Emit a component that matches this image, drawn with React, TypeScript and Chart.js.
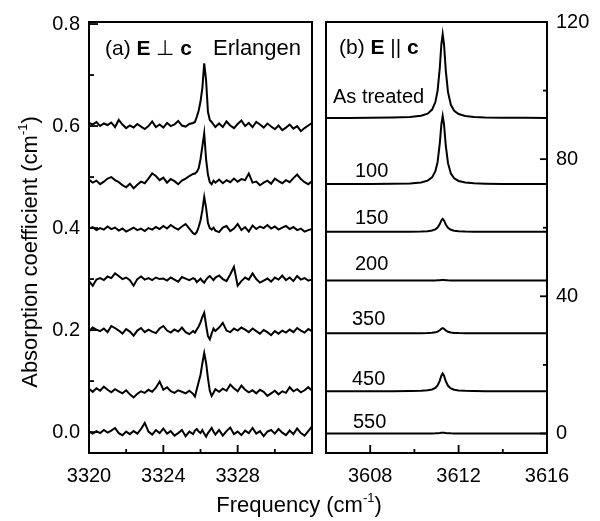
import React, { useEffect, useRef } from 'react';
import { Chart, registerables } from 'chart.js';

Chart.register(...registerables);

const FONT = '"Liberation Sans", Arial, Helvetica, sans-serif';

// ---------- Panel (a): E ⊥ c, Erlangen ----------
const LEFT_X = [
  3320, 3320.2, 3320.4, 3320.6, 3320.8, 3321, 3321.2, 3321.4, 3321.6, 3321.8,
  3322, 3322.2, 3322.4, 3322.6, 3322.8, 3323, 3323.2, 3323.4, 3323.6, 3323.8,
  3324, 3324.2, 3324.4, 3324.6, 3324.8, 3325, 3325.2, 3325.4, 3325.6,
  3325.7, 3325.8, 3325.9, 3326, 3326.1, 3326.2, 3326.3, 3326.4, 3326.5, 3326.6, 3326.7, 3326.8,
  3327, 3327.2, 3327.4, 3327.6, 3327.8, 3328, 3328.2, 3328.4, 3328.6, 3328.8,
  3329, 3329.2, 3329.4, 3329.6, 3329.8, 3330, 3330.2, 3330.4, 3330.6, 3330.8,
  3331, 3331.2, 3331.4, 3331.6, 3331.8, 3332,
];

const LEFT_S1 = [
  0.606, 0.603, 0.608, 0.600, 0.605, 0.602, 0.607, 0.598, 0.612, 0.603,
  0.596, 0.601, 0.597, 0.604, 0.599, 0.594, 0.600, 0.609, 0.598, 0.603,
  0.597, 0.606, 0.600, 0.603, 0.610, 0.601, 0.599, 0.604, 0.606,
  0.608, 0.618, 0.630, 0.648, 0.675, 0.723, 0.690, 0.628, 0.612, 0.608, 0.603, 0.598,
  0.605, 0.598, 0.609, 0.601, 0.596, 0.604, 0.611, 0.600, 0.606, 0.598,
  0.608, 0.603, 0.597, 0.605, 0.599, 0.594, 0.601, 0.592, 0.597, 0.603,
  0.595, 0.600, 0.590, 0.596, 0.601, 0.606,
];
const LEFT_S2 = [
  0.495, 0.489, 0.493, 0.486, 0.491, 0.497, 0.500, 0.494, 0.490, 0.484,
  0.480, 0.487, 0.478, 0.485, 0.491, 0.488, 0.497, 0.507, 0.502, 0.494,
  0.499, 0.489, 0.496, 0.492, 0.486, 0.493, 0.497, 0.502, 0.506,
  0.507, 0.510, 0.517, 0.535, 0.560, 0.586, 0.535, 0.505, 0.490, 0.486, 0.493, 0.489,
  0.495, 0.488, 0.494, 0.490, 0.497, 0.491, 0.496, 0.494, 0.507, 0.489,
  0.491, 0.484, 0.489, 0.493, 0.487, 0.497, 0.492, 0.488, 0.494, 0.490,
  0.498, 0.505, 0.496, 0.490, 0.486, 0.492,
];
const LEFT_S3 = [
  0.399, 0.402, 0.396, 0.400, 0.397, 0.403, 0.398, 0.401, 0.395, 0.399,
  0.393, 0.397, 0.401, 0.396, 0.399, 0.394, 0.400, 0.397, 0.402, 0.398,
  0.404, 0.399, 0.406, 0.401, 0.397, 0.403, 0.408, 0.399, 0.390,
  0.388, 0.392, 0.402, 0.415, 0.435, 0.461, 0.440, 0.410, 0.400, 0.397, 0.401, 0.395,
  0.392, 0.401, 0.404, 0.394, 0.399, 0.408, 0.396, 0.402, 0.393, 0.405,
  0.398, 0.403, 0.400, 0.406, 0.399, 0.403, 0.397, 0.401, 0.404, 0.398,
  0.402, 0.396, 0.399, 0.393, 0.396, 0.398,
];
const LEFT_S4 = [
  0.296, 0.287, 0.299, 0.302, 0.298, 0.305, 0.302, 0.311, 0.306, 0.300,
  0.303, 0.298, 0.287, 0.300, 0.305, 0.299, 0.302, 0.298, 0.303, 0.300,
  0.301, 0.297, 0.303, 0.299, 0.295, 0.304, 0.301, 0.298, 0.302,
  0.300, 0.294, 0.297, 0.301, 0.296, 0.293, 0.299, 0.303, 0.306, 0.302, 0.298, 0.303,
  0.307, 0.300, 0.296, 0.309, 0.324, 0.287, 0.296, 0.303, 0.299, 0.311,
  0.300, 0.293, 0.297, 0.301, 0.295, 0.303, 0.299, 0.307, 0.298, 0.303,
  0.296, 0.306, 0.299, 0.302, 0.297, 0.299,
];
const LEFT_S5 = [
  0.197, 0.205, 0.201, 0.198, 0.203, 0.196, 0.208, 0.204, 0.199, 0.193,
  0.202, 0.197, 0.189, 0.199, 0.204, 0.196, 0.201, 0.197, 0.194, 0.203,
  0.208, 0.199, 0.195, 0.201, 0.197, 0.205, 0.196, 0.192, 0.198,
  0.195, 0.201, 0.207, 0.215, 0.226, 0.234, 0.210, 0.188, 0.182, 0.193, 0.203, 0.198,
  0.205, 0.214, 0.199, 0.196, 0.203, 0.199, 0.205, 0.201, 0.196, 0.203,
  0.198, 0.193, 0.200, 0.196, 0.190, 0.198, 0.193, 0.199, 0.195, 0.201,
  0.196, 0.204, 0.199, 0.195, 0.202, 0.198,
];
const LEFT_S6 = [
  0.085, 0.079, 0.086, 0.081, 0.089, 0.083, 0.078, 0.084, 0.080, 0.076,
  0.082, 0.074, 0.068, 0.075, 0.080, 0.077, 0.083, 0.079, 0.087, 0.099,
  0.083, 0.088, 0.080, 0.077, 0.082, 0.079, 0.076, 0.081, 0.075,
  0.070, 0.084, 0.098, 0.112, 0.135, 0.155, 0.136, 0.106, 0.081, 0.071, 0.077, 0.084,
  0.079, 0.085, 0.081, 0.093, 0.086, 0.080, 0.091, 0.083, 0.078, 0.082,
  0.076, 0.083, 0.079, 0.071, 0.076, 0.081, 0.074, 0.080, 0.077, 0.088,
  0.080, 0.084, 0.078, 0.082, 0.088, 0.081,
];
const LEFT_S7 = [
  0.001, -0.003, 0.002, -0.002, 0.004, -0.001, 0.003, 0.008, -0.002, -0.006,
  0.001, -0.004, 0.002, -0.003, 0.006, 0.018, 0.001, -0.005, 0.004, -0.002,
  0.007, -0.003, 0.002, -0.007, -0.002, 0.004, -0.008, 0.001, -0.004,
  0.003, 0.006, 0.001, -0.002, 0.004, -0.003, -0.009, -0.002, 0.003, 0.008, 0.001, -0.005,
  0.004, -0.007, 0.002, 0.009, -0.004, 0.001, -0.006, 0.003, -0.002, 0.008,
  -0.003, 0.002, -0.008, 0.001, 0.004, -0.003, 0.006, -0.001, -0.006, 0.003,
  -0.004, 0.007, -0.002, -0.007, 0.002, 0.011,
];
const LEFT_SERIES = [LEFT_S1, LEFT_S2, LEFT_S3, LEFT_S4, LEFT_S5, LEFT_S6, LEFT_S7];

const LEFT_X_TICKS = [3320, 3322, 3324, 3326, 3328, 3330, 3332];
const LEFT_X_LABELS = ['3320', '', '3324', '', '3328', '', ''];
const LEFT_Y_TICKS = [0, 0.1, 0.2, 0.3, 0.4, 0.5, 0.6, 0.7, 0.8];
const LEFT_Y_LABELS = ['0.0', '', '0.2', '', '0.4', '', '0.6', '', '0.8'];

// ---------- Panel (b): E || c ----------
const RIGHT_X = [
  3606, 3607, 3608, 3609, 3609.8, 3610.3, 3610.6, 3610.8, 3610.95, 3611.05,
  3611.15, 3611.22, 3611.28, 3611.34, 3611.42, 3611.52, 3611.65, 3611.8, 3612.0, 3612.3,
  3612.7, 3613.2, 3614, 3615, 3616,
];
const RIGHT_AS_TREATED = [
  92.0, 92.03, 92.06, 92.12, 92.28, 92.64, 93.27, 94.45, 96.66, 99.99,
  106.7, 113.5, 116.5, 113.5, 105.9, 99.55, 95.85, 94.12, 93.15, 92.59,
  92.31, 92.17, 92.08, 92.04, 92.03,
];
const RIGHT_100 = [
  72.72, 72.73, 72.75, 72.8, 72.93, 73.22, 73.73, 74.69, 76.48, 79.19,
  84.64, 90.15, 92.6, 90.15, 83.96, 78.83, 75.82, 74.42, 73.64, 73.18,
  72.95, 72.84, 72.77, 72.74, 72.72,
];
const RIGHT_150 = [
  58.8, 58.8, 58.81, 58.82, 58.84, 58.9, 59.0, 59.18, 59.52, 60.04,
  61.08, 62.13, 62.6, 62.13, 60.95, 59.97, 59.4, 59.13, 58.98, 58.89,
  58.85, 58.82, 58.81, 58.8, 58.8,
];
const RIGHT_200 = [
  44.6, 44.6, 44.6, 44.6, 44.6, 44.6, 44.61, 44.62, 44.64, 44.67,
  44.71, 44.75, 44.77, 44.75, 44.7, 44.66, 44.63, 44.62, 44.61, 44.6,
  44.6, 44.6, 44.6, 44.6, 44.6,
];
const RIGHT_350 = [
  29.2, 29.2, 29.2, 29.21, 29.22, 29.24, 29.28, 29.35, 29.49, 29.69,
  30.1, 30.52, 30.7, 30.52, 30.05, 29.66, 29.44, 29.33, 29.27, 29.24,
  29.22, 29.21, 29.2, 29.2, 29.2,
];
const RIGHT_450 = [
  12.3, 12.31, 12.31, 12.33, 12.36, 12.44, 12.57, 12.82, 13.29, 14.0,
  15.42, 16.86, 17.5, 16.86, 15.24, 13.9, 13.12, 12.75, 12.54, 12.42,
  12.37, 12.34, 12.32, 12.31, 12.31,
];
const RIGHT_550 = [
  0, 0, 0, 0, 0, 0, 0.01, 0.02, 0.04, 0.07,
  0.12, 0.18, 0.2, 0.18, 0.11, 0.06, 0.03, 0.02, 0.01, 0,
  0, 0, 0, 0, 0,
];
const RIGHT_SERIES = [RIGHT_AS_TREATED, RIGHT_100, RIGHT_150, RIGHT_200, RIGHT_350, RIGHT_450, RIGHT_550];
const RIGHT_CURVE_LABELS = ['As treated', '100', '150', '200', '350', '450', '550'];

const RIGHT_X_TICKS = [3606, 3608, 3610, 3612, 3614, 3616];
const RIGHT_X_LABELS = ['', '3608', '', '3612', '', '3616'];
const RIGHT_Y_TICKS = [0, 20, 40, 60, 80, 100, 120];
const RIGHT_Y_LABELS = ['0', '', '40', '', '80', '', '120'];

type Run = { text: string; font: string; dy?: number };

function drawRuns(ctx: CanvasRenderingContext2D, x: number, y: number, runs: Run[], align: 'left' | 'center' = 'left') {
  ctx.textAlign = 'left';
  const widths = runs.map((r) => {
    ctx.font = r.font;
    return ctx.measureText(r.text).width;
  });
  const total = widths.reduce((a, b) => a + b, 0);
  let cx = align === 'center' ? x - total / 2 : x;
  runs.forEach((r, i) => {
    ctx.font = r.font;
    ctx.fillText(r.text, cx, y + (r.dy || 0));
    cx += widths[i];
  });
}

function makeX(min: number, max: number, ticks: number[], labels: string[]) {
  return {
    type: 'linear',
    position: 'bottom',
    min,
    max,
    grid: { display: false, drawTicks: false },
    border: { display: false },
    ticks: {
      autoSkip: false,
      maxRotation: 0,
      minRotation: 0,
      padding: 11,
      color: '#000',
      font: { family: FONT, size: 20 },
      callback: (_v: any, i: number) => labels[i] ?? '',
    },
    afterBuildTicks: (s: any) => {
      s.ticks = ticks.map((v) => ({ value: v }));
    },
    afterFit: (s: any) => {
      s.height = 40;
    },
  };
}

function makeY(min: number, max: number, ticks: number[], labels: string[], position: 'left' | 'right') {
  return {
    type: 'linear',
    position,
    min,
    max,
    grid: { display: false, drawTicks: false },
    border: { display: false },
    ticks: {
      autoSkip: false,
      padding: 9,
      color: '#000',
      font: { family: FONT, size: 20 },
      callback: (_v: any, i: number) => labels[i] ?? '',
    },
    afterBuildTicks: (s: any) => {
      s.ticks = ticks.map((v) => ({ value: v }));
    },
    afterFit: (s: any) => {
      s.width = 50;
    },
  };
}

function framePlugin(spec: {
  xLabels: string[];
  yLabels: string[];
  xMajor: number;
  xMinor: number;
  yMajor: number;
  yMinor: number;
  ySide: 'left' | 'right';
}) {
  return {
    id: 'frameTicks',
    afterDatasetsDraw(chart: any) {
      const { ctx, chartArea: a } = chart;
      ctx.save();
      ctx.strokeStyle = '#000';
      ctx.lineWidth = 1.8;
      const xs = chart.scales.x;
      xs.ticks.forEach((t: any, i: number) => {
        const px = xs.getPixelForValue(t.value);
        const len = spec.xLabels[i] ? spec.xMajor : spec.xMinor;
        ctx.beginPath();
        ctx.moveTo(px, a.bottom);
        ctx.lineTo(px, a.bottom - len);
        ctx.stroke();
      });
      const ys = chart.scales.y;
      ys.ticks.forEach((t: any, i: number) => {
        const py = ys.getPixelForValue(t.value);
        const len = spec.yLabels[i] ? spec.yMajor : spec.yMinor;
        ctx.beginPath();
        if (spec.ySide === 'left') {
          ctx.moveTo(a.left, py);
          ctx.lineTo(a.left + len, py);
        } else {
          ctx.moveTo(a.right, py);
          ctx.lineTo(a.right - len, py);
        }
        ctx.stroke();
      });
      ctx.lineWidth = 2;
      ctx.strokeRect(a.left, a.top, a.right - a.left, a.bottom - a.top);
      ctx.restore();
    },
  };
}

const leftTextPlugin = {
  id: 'leftText',
  afterDraw(chart: any) {
    const ctx: CanvasRenderingContext2D = chart.ctx;
    ctx.save();
    ctx.fillStyle = '#000';
    ctx.textBaseline = 'alphabetic';
    const reg = `21px ${FONT}`;
    const bold = `bold 21px ${FONT}`;
    drawRuns(ctx, 105, 55, [
      { text: '(a) ', font: reg },
      { text: 'E', font: bold },
      { text: ' \u22A5 ', font: reg },
      { text: 'c', font: bold },
    ]);
    drawRuns(ctx, 213, 55, [{ text: 'Erlangen', font: `22px ${FONT}` }]);

    // x-axis title (shared)
    const tf = `22px ${FONT}`;
    const sf = `13px ${FONT}`;
    drawRuns(ctx, 299, 512, [
      { text: 'Frequency (cm', font: tf },
      { text: '-1', font: sf, dy: -10 },
      { text: ')', font: tf },
    ], 'center');

    // y-axis title
    ctx.translate(37, 252);
    ctx.rotate(-Math.PI / 2);
    drawRuns(ctx, 0, 0, [
      { text: 'Absorption coefficient (cm', font: tf },
      { text: '-1', font: sf, dy: -10 },
      { text: ')', font: tf },
    ], 'center');
    ctx.restore();
  },
};

const rightTextPlugin = {
  id: 'rightText',
  afterDraw(chart: any) {
    const ctx: CanvasRenderingContext2D = chart.ctx;
    ctx.save();
    ctx.fillStyle = '#000';
    ctx.textBaseline = 'alphabetic';
    const reg = `21px ${FONT}`;
    const bold = `bold 21px ${FONT}`;
    drawRuns(ctx, 339, 54, [
      { text: '(b) ', font: reg },
      { text: 'E', font: bold },
      { text: ' || ', font: reg },
      { text: 'c', font: bold },
    ]);
    const lf = `20px ${FONT}`;
    const pos: [number, number][] = [
      [333, 103],
      [355, 177],
      [355, 224],
      [355, 270],
      [352, 325],
      [352, 385],
      [353, 428],
    ];
    RIGHT_CURVE_LABELS.forEach((t, i) => {
      drawRuns(ctx, pos[i][0], pos[i][1], [{ text: t, font: lf }]);
    });
    ctx.restore();
  },
};

function lineDatasets(xs: number[], series: number[][]) {
  return series.map((ys, k) => ({
    label: 'S' + k,
    data: xs.map((x, i) => ({ x, y: ys[i] })),
    borderColor: '#000',
    borderWidth: 2,
    pointRadius: 0,
    tension: 0,
    fill: false,
  }));
}

export default function App() {
  const leftRef = useRef<HTMLCanvasElement>(null);
  const rightRef = useRef<HTMLCanvasElement>(null);

  useEffect(() => {
    const c1 = new Chart(leftRef.current as HTMLCanvasElement, {
      type: 'line',
      data: { datasets: lineDatasets(LEFT_X, LEFT_SERIES) as any },
      options: {
        responsive: false,
        animation: false,
        events: [],
        layout: { padding: { left: 39, right: 288, top: 22, bottom: 28 } },
        plugins: { legend: { display: false }, tooltip: { enabled: false } },
        scales: {
          x: makeX(3320, 3332, LEFT_X_TICKS, LEFT_X_LABELS) as any,
          y: makeY(-0.041, 0.804, LEFT_Y_TICKS, LEFT_Y_LABELS, 'left') as any,
        },
      },
      plugins: [
        framePlugin({ xLabels: LEFT_X_LABELS, yLabels: LEFT_Y_LABELS, xMajor: 8, xMinor: 4, yMajor: 9, yMinor: 5, ySide: 'left' }),
        leftTextPlugin,
      ],
    });
    const c2 = new Chart(rightRef.current as HTMLCanvasElement, {
      type: 'line',
      data: { datasets: lineDatasets(RIGHT_X, RIGHT_SERIES) as any },
      options: {
        responsive: false,
        animation: false,
        events: [],
        layout: { padding: { left: 326, right: 3, top: 22, bottom: 28 } },
        plugins: { legend: { display: false }, tooltip: { enabled: false } },
        scales: {
          x: makeX(3606, 3616, RIGHT_X_TICKS, RIGHT_X_LABELS) as any,
          y: makeY(-5.7, 120, RIGHT_Y_TICKS, RIGHT_Y_LABELS, 'right') as any,
        },
      },
      plugins: [
        framePlugin({ xLabels: RIGHT_X_LABELS, yLabels: RIGHT_Y_LABELS, xMajor: 8, xMinor: 4, yMajor: 7, yMinor: 4, ySide: 'right' }),
        rightTextPlugin,
      ],
    });
    return () => {
      c1.destroy();
      c2.destroy();
    };
  }, []);

  return (
    <div style={{ position: 'absolute', left: 0, top: 0, width: 600, height: 521, background: '#fff', overflow: 'hidden' }}>
      <canvas ref={leftRef} width={600} height={521} style={{ position: 'absolute', left: 0, top: 0 }} />
      <canvas ref={rightRef} width={600} height={521} style={{ position: 'absolute', left: 0, top: 0 }} />
    </div>
  );
}
